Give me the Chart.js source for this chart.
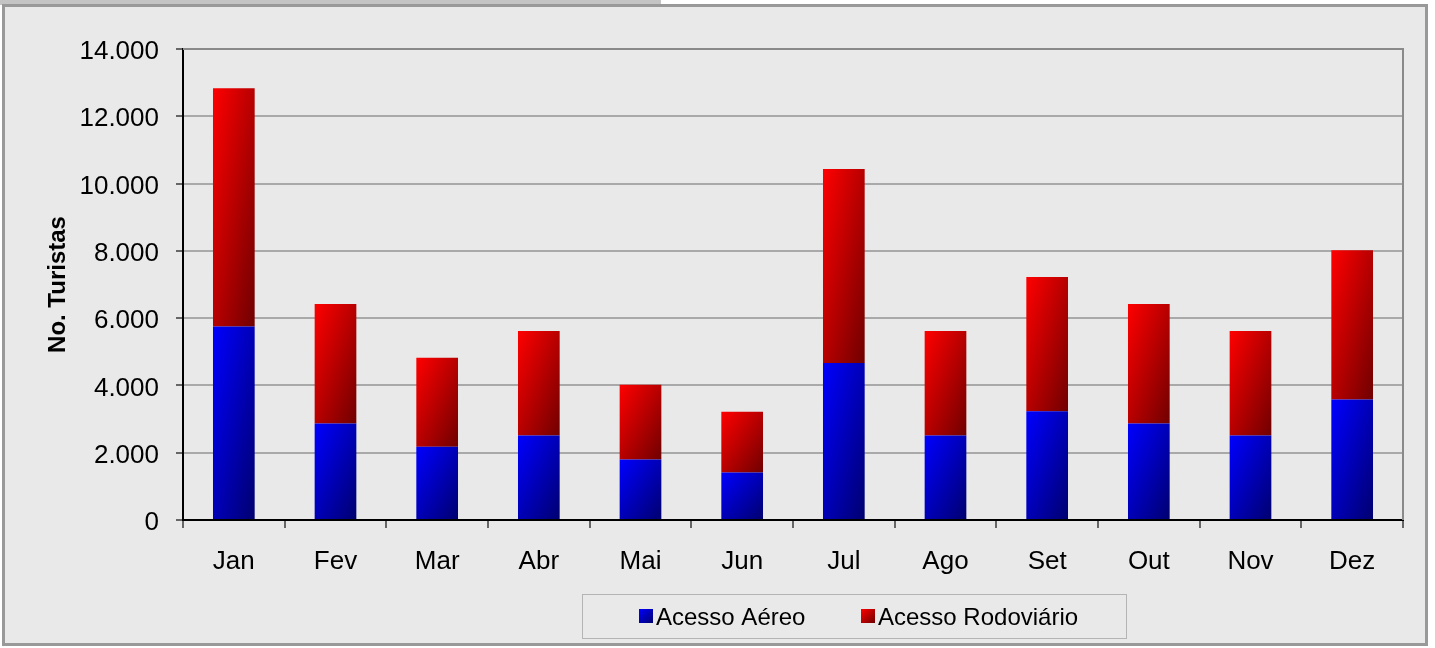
<!DOCTYPE html>
<html lang="pt">
<head>
<meta charset="utf-8">
<title>Turistas por mês</title>
<script src="https://cdn.jsdelivr.net/npm/chart.js@4.4.0/dist/chart.umd.min.js"></script>
<style>
    html, body { margin: 0; padding: 0; background: #ffffff; }
    #wrap { width: 1435px; height: 648px; }
</style>
</head>
<body>
<div id="wrap"><canvas id="turistasChart" width="1435" height="648"></canvas></div>
<script>
// Dados do gráfico
const meses = ["Jan", "Fev", "Mar", "Abr", "Mai", "Jun", "Jul", "Ago", "Set", "Out", "Nov", "Dez"];
const acessoAereo = [5750, 2870, 2180, 2510, 1800, 1410, 4670, 2510, 3230, 2870, 2510, 3580];
const acessoRodoviario = [7080, 3550, 2640, 3110, 2220, 1810, 5760, 3110, 3990, 3550, 3110, 4440];
const nomesSeries = ["Acesso Aéreo", "Acesso Rodoviário"];
const eixoY = { min: 0, max: 14000, passo: 2000 };

// Cores (claro -> escuro) de cada série
const coresClaras = ["#0000ff", "#ff0000"];
const coresEscuras = ["#000070", "#700000"];

const FONTE = "'Liberation Sans', Arial, Helvetica, sans-serif";

// Formata 14000 -> "14.000"
function formatarNumero(v) {
    return String(v).replace(/\B(?=(\d{3})+(?!\d))/g, ".");
}

// Gradiente diagonal estilo Excel (canto sup. esq. claro -> inf. dir. escuro)
function gradiente(ctx, x, y, w, h, i) {
    const k = 2 / (1 / (w * w) + 1 / (h * h));
    const g = ctx.createLinearGradient(x, y, x + k / w, y + k / h);
    g.addColorStop(0, coresClaras[i]);
    g.addColorStop(1, coresEscuras[i]);
    return g;
}

// Fundo e moldura externa
const pluginFundo = {
    id: "fundo",
    beforeDraw(chart) {
        const ctx = chart.ctx;
        ctx.save();
        ctx.fillStyle = "#ffffff";
        ctx.fillRect(0, 0, chart.width, chart.height);
        // aba cinza no topo
        ctx.fillStyle = "#c4c4c4";
        ctx.fillRect(0, 0, 661, 5);
        ctx.fillStyle = "#e9e9e9";
        ctx.fillRect(3, 5, 1424, 640);
        ctx.strokeStyle = "#999999";
        ctx.lineWidth = 3;
        ctx.strokeRect(3.5, 5.5, 1423, 639);
        ctx.restore();
    }
};

// Borda superior e direita da área de plotagem + gradientes das barras
const pluginBarras = {
    id: "barras",
    beforeDatasetsDraw(chart) {
        const ctx = chart.ctx;
        const a = chart.chartArea;
        ctx.save();
        ctx.strokeStyle = "#8a8a8a";
        ctx.lineWidth = 2;
        ctx.beginPath();
        ctx.moveTo(a.left, a.top);
        ctx.lineTo(a.right, a.top);
        ctx.lineTo(a.right, a.bottom);
        ctx.stroke();
        ctx.restore();

        chart.data.datasets.forEach((ds, i) => {
            const meta = chart.getDatasetMeta(i);
            meta.data.forEach(bar => {
                const p = bar.getProps(["x", "y", "base", "width"], true);
                const top = Math.min(p.y, p.base);
                const h = Math.max(1, Math.abs(p.base - p.y));
                bar.options.backgroundColor = gradiente(ctx, p.x - p.width / 2, top, p.width, h, i);
            });
        });
    }
};

// Legenda desenhada abaixo do gráfico
const pluginLegenda = {
    id: "legendaCaixa",
    afterDraw(chart) {
        const ctx = chart.ctx;
        ctx.save();
        ctx.strokeStyle = "#b4b4b4";
        ctx.lineWidth = 1;
        ctx.strokeRect(582.5, 594.5, 544, 44);
        const posicoes = [639, 861];
        ctx.font = "24px " + FONTE;
        ctx.textBaseline = "middle";
        chart.data.datasets.forEach((ds, i) => {
            const x = posicoes[i];
            ctx.fillStyle = gradiente(ctx, x, 609, 14, 14, i);
            ctx.fillRect(x, 609, 14, 14);
            ctx.fillStyle = "#000000";
            ctx.fillText(ds.label, x + 17, 618);
        });
        ctx.restore();
    }
};

const ctx = document.getElementById("turistasChart").getContext("2d");
new Chart(ctx, {
    type: "bar",
    data: {
        labels: meses,
        datasets: [{
            label: nomesSeries[0],
            data: acessoAereo,
            backgroundColor: () => coresClaras[0],
            borderWidth: 0
        }, {
            label: nomesSeries[1],
            data: acessoRodoviario,
            backgroundColor: () => coresClaras[1],
            borderWidth: 0
        }]
    },
    options: {
        responsive: false,
        devicePixelRatio: 1,
        animation: false,
        categoryPercentage: 1,
        barPercentage: 0.41,
        layout: { padding: { top: 49, right: 32, left: 0, bottom: 0 } },
        plugins: {
            legend: { display: false },
            tooltip: { enabled: false }
        },
        scales: {
            x: {
                stacked: true,
                afterFit: s => { s.height = 128; },
                grid: {
                    display: true,
                    drawOnChartArea: false,
                    offset: true,
                    tickLength: 8,
                    tickColor: "#666666",
                    lineWidth: 2
                },
                border: { color: "#000000", width: 2 },
                ticks: {
                    color: "#000000",
                    padding: 18,
                    font: { family: FONTE, size: 26 }
                }
            },
            y: {
                stacked: true,
                min: eixoY.min,
                max: eixoY.max,
                afterFit: s => { s.width = 183; },
                grid: {
                    color: "#a9a9a9",
                    lineWidth: 2,
                    tickLength: 7,
                    tickColor: "#666666"
                },
                border: { color: "#000000", width: 2 },
                ticks: {
                    stepSize: eixoY.passo,
                    color: "#000000",
                    padding: 17,
                    labelOffset: 3,
                    font: { family: FONTE, size: 26 },
                    callback: v => formatarNumero(v)
                },
                title: {
                    display: true,
                    text: "No. Turistas",
                    color: "#000000",
                    padding: { top: 44, bottom: 0 },
                    font: { family: FONTE, size: 24, weight: "bold" }
                }
            }
        }
    },
    plugins: [pluginFundo, pluginBarras, pluginLegenda]
});
</script>
</body>
</html>
